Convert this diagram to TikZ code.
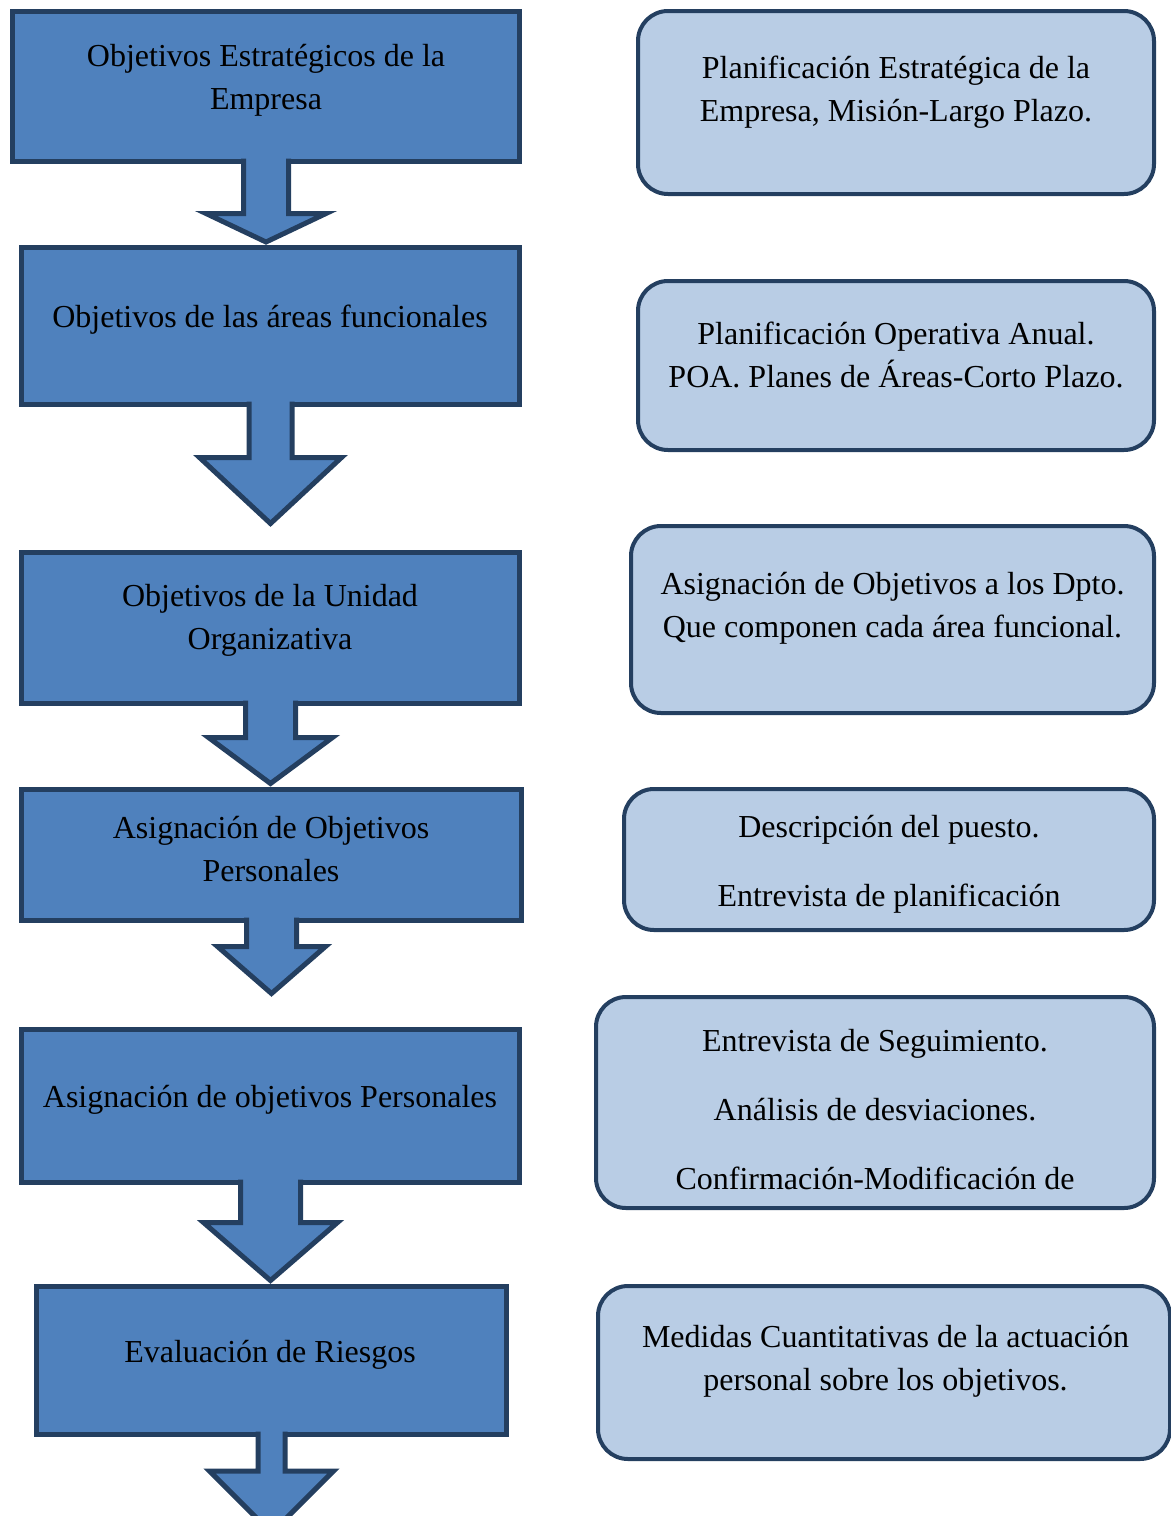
\documentclass[tikz,border=0pt]{standalone}
\usepackage{fontspec}
\setmainfont{Liberation Serif}
\usetikzlibrary{calc,shapes,positioning}
\definecolor{objfill}{HTML}{4F81BD}
\definecolor{objline}{HTML}{243F60}
\definecolor{resfill}{HTML}{B9CDE5}
\tikzset{
  objbox/.style={
    rectangle,
    fill=objfill,
    draw=objline, line width=2.5pt,
    outer sep=0pt},
  resbox/.style={
    rectangle,
    rounded corners=15pt,
    fill=resfill,
    draw=objline, line width=2pt,
    outer sep=0pt},
  boxtext/.style={
    align=center,
    font=\fontsize{16}{21.5}\selectfont,
    yshift=-2pt,
    inner sep=0pt},
  flecha/.style={
    fill=objfill,
    draw=objline, line width=2.5pt,
    line join=miter},
}
% block arrow: from node, to point, shaft half width, head half width,
% head length, gap before the point
\newcommand\flechabloque[6]{%
  \coordinate (punta) at ($(#1.south |- #2)+(0,-#6)$);
  \draw[flecha] ($(#1.south)+(-#3,-3)$) -- ($(punta)+(-#3,-#5)$)
    -- ($(punta)+(-#4,-#5)$) -- (punta) -- ($(punta)+(#4,-#5)$)
    -- ($(punta)+(#3,-#5)$) -- ($(#1.south)+(#3,-3)$);
}

\begin{document}
\begin{tikzpicture}[x=0.5pt, y=-0.5pt]
  \useasboundingbox (0,0) rectangle (1171,1516);
  \clip (0,0) rectangle (1171,1516);
  %% Left column: the objectives
  \node[objbox, minimum width=253.5pt, minimum height=75pt] (obj1) at (266,86.5) {};
  \node[objbox, minimum width=249pt, minimum height=78.5pt] (obj2) at (270.5,326) {};
  \node[objbox, minimum width=249pt, minimum height=75.5pt] (obj3) at (270.5,628) {};
  \node[objbox, minimum width=250pt, minimum height=65.5pt] (obj4) at (271.5,855) {};
  \node[objbox, minimum width=249pt, minimum height=76.5pt] (obj5) at (270.5,1106) {};
  \node[objbox, minimum width=235pt, minimum height=74pt] (obj6) at (271.5,1360.5) {};
  \node[boxtext] (obj1t) at (266,76.5) {Objetivos Estratégicos de la\\Empresa};
  \node[boxtext] (obj2t) at (270,316) {Objetivos de las áreas funcionales};
  \node[boxtext] (obj3t) at (270,616.5) {Objetivos de la Unidad\\Organizativa};
  \node[boxtext] (obj4t) at (271,845.5) {Asignación de Objetivos\\Personales};
  \node[boxtext] (obj5t) at (270,1096) {Asignación de objetivos Personales};
  \node[boxtext] (obj6t) at (270,1351) {Evaluación de Riesgos};
  %% the block arrows between them
  \flechabloque{obj1}{obj2.north}{22.5}{60}{28.5}{5.5}
  \flechabloque{obj2}{obj3.north}{21.5}{71}{66}{29}
  \flechabloque{obj3}{obj4.north}{25}{62}{46}{6}
  \flechabloque{obj4}{obj5.north}{25}{54}{47}{36}
  \flechabloque{obj5}{obj6.north}{30}{67}{58}{6}
  \coordinate (fin) at (271.5,1533);
  \flechabloque{obj6}{fin}{13.5}{62}{62}{0}
  %% Right column: what each step means
  \node[resbox, minimum width=258pt, minimum height=91.5pt] (res1) at (896,102.5) {};
  \node[resbox, minimum width=258pt, minimum height=84.5pt] (res2) at (896,365.5) {};
  \node[resbox, minimum width=261.5pt, minimum height=93.5pt] (res3) at (892.5,619.5) {};
  \node[resbox, minimum width=265pt, minimum height=70.5pt] (res4) at (889,859.5) {};
  \node[resbox, minimum width=279pt, minimum height=105.5pt] (res5) at (875,1102.5) {};
  \node[resbox, minimum width=286pt, minimum height=86.5pt] (res6) at (884,1372.5) {};
  \node[boxtext] (res1t) at (896,88.5) {Planificación Estratégica de la\\Empresa, Misión-Largo Plazo.};
  \node[boxtext] (res2t) at (896,350.5) {Planificación Operativa Anual.\\POA. Planes de Áreas-Corto Plazo.};
  \node[boxtext] (res3t) at (892.5,604.5) {Asignación de Objetivos a los Dpto.\\Que componen cada área funcional.};
  \node[boxtext] (res4t) at (889,860.5) {Descripción del puesto.\\[13pt]Entrevista de planificación};
  \node[boxtext] (res5t) at (875,1106) {Entrevista de Seguimiento.\\[13pt]Análisis de desviaciones.\\[13pt]Confirmación-Modificación de};
  \node[boxtext] (res6t) at (885.5,1357.5) {Medidas Cuantitativas de la actuación\\personal sobre los objetivos.};
\end{tikzpicture}
\end{document}
